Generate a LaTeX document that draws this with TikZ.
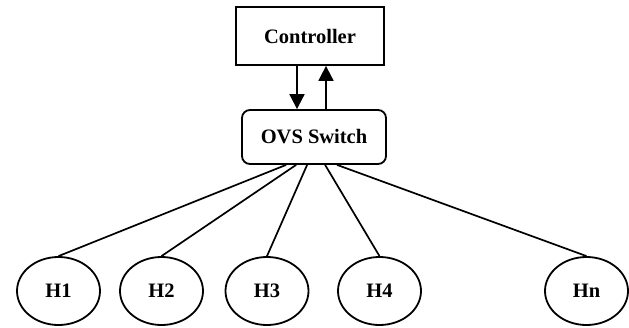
\documentclass[tikz,border=0pt]{standalone}
\usepackage{fontspec}
\setmainfont{Liberation Serif}
\usetikzlibrary{shapes.geometric,arrows.meta,calc}
\begin{document}
\begin{tikzpicture}[x=1pt,y=-1pt,
  every node/.style={font=\fontsize{20.5}{24}\selectfont\bfseries, inner sep=0pt},
  boxnode/.style={draw, line width=1.8pt, rectangle, minimum width=148pt, minimum height=58pt},
  switchnode/.style={draw, line width=1.8pt, rectangle, rounded corners=8pt, minimum width=144pt, minimum height=54pt},
  hostnode/.style={draw, line width=1.8pt, ellipse, minimum width=83pt, minimum height=68pt},
  link/.style={line width=1.7pt},
  ctrlarrow/.style={line width=1.8pt, -{Triangle[length=15pt,width=15pt]}}]
\useasboundingbox (0,0) rectangle (629,327);
\node[boxnode] (ctrl) at (310,36) {Controller};
\node[switchnode] (ovs) at (314,137) {OVS Switch};
\node[hostnode] (h1) at (58.5,291) {H1};
\node[hostnode] (h2) at (161.5,291) {H2};
\node[hostnode] (h3) at (267,291) {H3};
\node[hostnode] (h4) at (379.5,291) {H4};
\node[hostnode] (hn) at (586.5,291) {Hn};
% control channel between controller and switch
\coordinate (down) at ($(ctrl.south)+(-13,0)$);
\coordinate (up) at ($(ctrl.south)+(16,0)$);
\draw[ctrlarrow] (down) -- (down |- ovs.north);
\draw[ctrlarrow] (up |- ovs.north) -- (up);
% host links
\draw[link] ($(ovs.south west)+(45,0)$) -- (h1.north);
\draw[link] ($(ovs.south west)+(55,0)$) -- (h2.north);
\draw[link] ($(ovs.south west)+(66,0)$) -- (h3.north);
\draw[link] ($(ovs.south west)+(84,0)$) -- (h4.north);
\draw[link] ($(ovs.south west)+(96,0)$) -- (hn.north);
\end{tikzpicture}
\end{document}
